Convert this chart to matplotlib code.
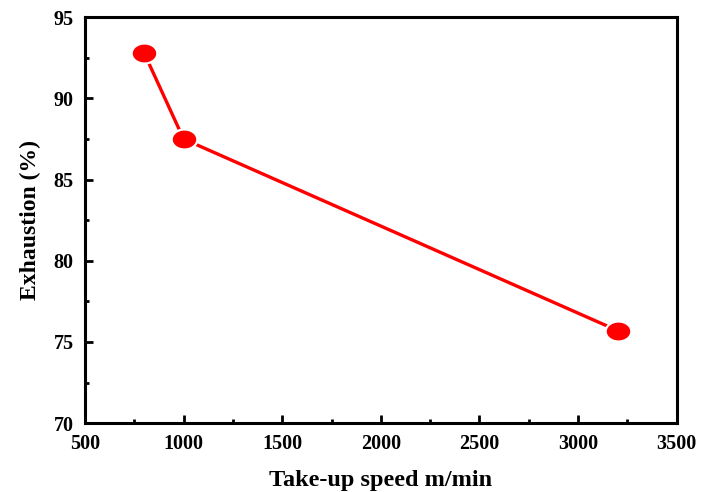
import matplotlib
matplotlib.use("Agg")
import numpy as np
import matplotlib.pyplot as plt
from matplotlib.path import Path
from matplotlib.ticker import MultipleLocator

speed = [800, 1000, 3200]
exhaustion = [92.8, 87.5, 75.7]
x_ticks = [500, 1000, 1500, 2000, 2500, 3000, 3500]
y_ticks = [70, 75, 80, 85, 90, 95]

plt.rcParams['font.family'] = ['Liberation Serif', 'DejaVu Serif']
plt.rcParams['font.weight'] = 'bold'

# slightly wide elliptical dot marker
t = np.linspace(0, 2 * np.pi, 60)
ellipse = Path(np.column_stack([np.cos(t), 0.78 * np.sin(t)]), closed=True)

fig = plt.figure(figsize=(7.02, 4.92), dpi=100)
ax = fig.add_axes([0.121, 0.140, 0.843, 0.825])

ax.plot(speed, exhaustion, color='#ff0000', lw=2.4, marker=ellipse,
        markersize=18.5, markerfacecolor='#ff0000', markeredgecolor='white',
        markeredgewidth=1.6)

ax.set_xlim(500, 3500)
ax.set_ylim(70, 95)
ax.set_xticks(x_ticks)
ax.set_yticks(y_ticks)
ax.xaxis.set_minor_locator(MultipleLocator(250))
ax.yaxis.set_minor_locator(MultipleLocator(2.5))
ax.tick_params(which='both', direction='in', top=False, right=False,
               width=2, labelsize=14.5)
ax.tick_params(which='major', length=5.5)
ax.tick_params(which='minor', length=3)
ax.tick_params(axis='x', which='major', pad=8)
ax.tick_params(axis='y', which='major', pad=8)
for lbl in ax.get_xticklabels() + ax.get_yticklabels():
    lbl.set_fontweight('bold')
for s in ax.spines.values():
    s.set_linewidth(2.2)

ax.set_xlabel('Take-up speed m/min', fontsize=17.5, fontweight='bold', labelpad=11)
ax.set_ylabel('Exhaustion (%)', fontsize=17, fontweight='bold', labelpad=9)

fig.savefig('out.png', dpi=100)
